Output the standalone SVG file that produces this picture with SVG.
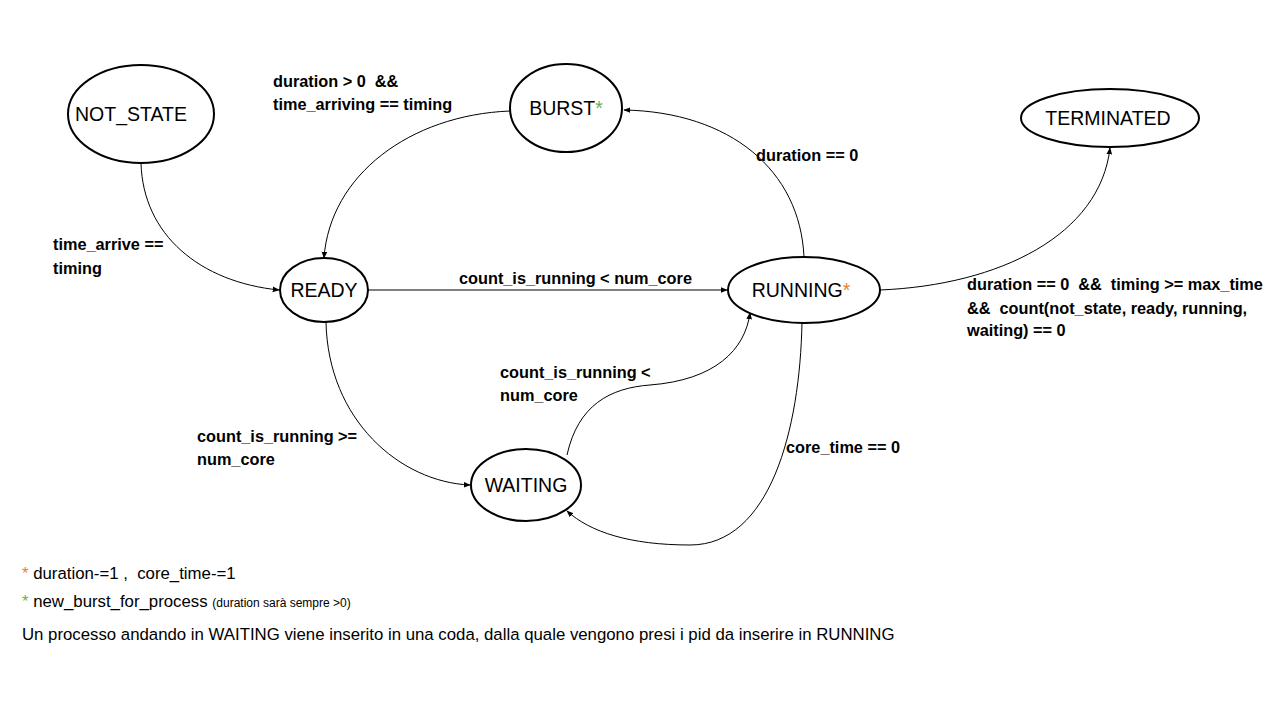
<svg xmlns="http://www.w3.org/2000/svg" width="1280" height="720" viewBox="0 0 1280 720">
<defs>
<marker id="arr" viewBox="0 0 10 10" refX="9" refY="5" markerWidth="7" markerHeight="7" orient="auto" markerUnits="userSpaceOnUse">
<path d="M0,1 L10,5 L0,9 z" fill="#000"/>
</marker>
<style>
text{white-space:pre}
.node ellipse{fill:#fff;stroke:#000;stroke-width:2}
.node text{font-family:"Liberation Sans",Arial,sans-serif;font-size:19.5px;fill:#000;text-anchor:middle;dominant-baseline:central}
.edges path{fill:none;stroke:#000;stroke-width:1;marker-end:url(#arr)}
.lbl{font-family:"Liberation Sans",Arial,sans-serif;font-size:16.3px;font-weight:bold;fill:#000}
.note{font-family:"Liberation Sans",Arial,sans-serif;font-size:16.8px;fill:#000}
.or{fill:#ED7D31}
.gr{fill:#70AD47}
</style>
</defs>
<rect width="1280" height="720" fill="#fff"/>
<g class="edges" id="connectors">
<path d="M141,163 C143,235 200,282 279,290"/>
<path d="M510,111 C410,115 330,175 324,258"/>
<path d="M368,290 L727,290"/>
<path d="M804,257 C800,170 730,112 624,110"/>
<path d="M880,290 C1000,285 1100,235 1110,148"/>
<path d="M326,322 C328,420 400,482 470,485"/>
<path d="M567,455 C578,405 610,388 650,385 C715,380 745,350 750,313"/>
<path d="M802,322 C800,430 770,545 690,545 C630,545 590,532 567,511"/>
</g>
<g id="labels">
<text class="lbl" x="273" y="87">duration &gt; 0  &amp;&amp;</text>
<text class="lbl" x="273" y="110">time_arriving == timing</text>
<text class="lbl" x="53" y="250">time_arrive ==</text>
<text class="lbl" x="53" y="274">timing</text>
<text class="lbl" x="459" y="284">count_is_running &lt; num_core</text>
<text class="lbl" x="756" y="161">duration == 0</text>
<text class="lbl" x="967" y="290">duration == 0  &amp;&amp;  timing &gt;= max_time</text>
<text class="lbl" x="967" y="314">&amp;&amp;  count(not_state, ready, running,</text>
<text class="lbl" x="967" y="336">waiting) == 0</text>
<text class="lbl" x="500" y="378">count_is_running &lt;</text>
<text class="lbl" x="500" y="401">num_core</text>
<text class="lbl" x="197" y="442">count_is_running &gt;=</text>
<text class="lbl" x="197" y="465">num_core</text>
<text class="lbl" x="786" y="453">core_time == 0</text>
</g>
<g class="node" id="not_state"><ellipse cx="141" cy="114" rx="73" ry="49"/><text x="131" y="114">NOT_STATE</text></g>
<g class="node" id="burst"><ellipse cx="566" cy="108" rx="56" ry="44"/><text x="566" y="108">BURST<tspan class="gr">*</tspan></text></g>
<g class="node" id="terminated"><ellipse cx="1110" cy="118" rx="89" ry="29"/><text x="1108" y="118" font-size="20.5px">TERMINATED</text></g>
<g class="node" id="ready"><ellipse cx="324" cy="290" rx="44" ry="32"/><text x="324" y="290">READY</text></g>
<g class="node" id="running"><ellipse cx="804" cy="290" rx="76" ry="33"/><text x="801" y="290">RUNNING<tspan class="or">*</tspan></text></g>
<g class="node" id="waiting"><ellipse cx="526" cy="485" rx="55" ry="36"/><text x="526" y="485">WAITING</text></g>
<g id="notes">
<text class="note" x="22" y="579"><tspan class="or">*</tspan> duration-=1 ,  core_time-=1</text>
<text class="note" x="22" y="607"><tspan class="gr">*</tspan> new_burst_for_process <tspan font-size="12px">(duration sarà sempre &gt;0)</tspan></text>
<text class="note" x="22" y="640">Un processo andando in WAITING viene inserito in una coda, dalla quale vengono presi i pid da inserire in RUNNING</text>
</g>
</svg>
